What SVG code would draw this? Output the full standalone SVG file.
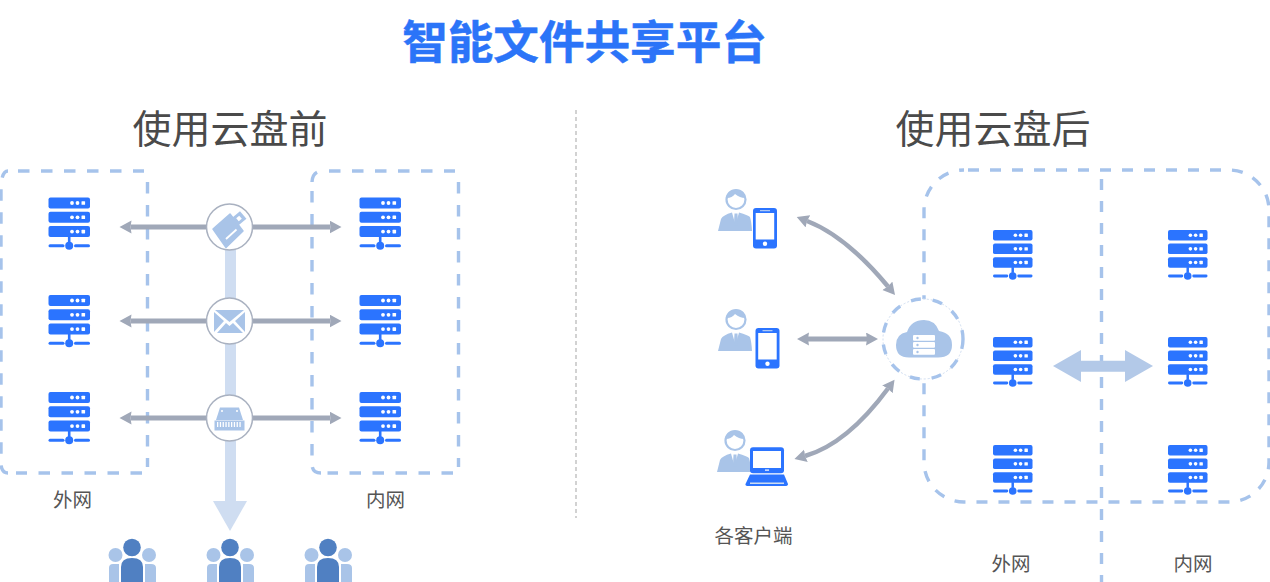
<svg xmlns="http://www.w3.org/2000/svg" width="1270" height="582" viewBox="0 0 1270 582">
<style>
text{font-family:"Noto Sans CJK SC","Noto Sans",sans-serif;text-anchor:middle}
.title{font-size:45.6px;font-weight:700;fill:#2b74f8;stroke:#2b74f8;stroke-width:.5}
.sub{font-size:39px;font-weight:400;fill:#4a4a4a}
.lab{font-size:19.5px;fill:#555}
.dash{fill:none;stroke:#a6c3eb;stroke-width:3.400;stroke-dasharray:11.500 11.500}
.dash2{fill:none;stroke:#a6c3eb;stroke-width:3.400;stroke-dasharray:11 11}
.arr{fill:none;stroke:#a0a8b8;stroke-width:5;marker-start:url(#ah);marker-end:url(#ah)}
.arc{fill:none;stroke:#a0a8b8;stroke-width:4.500;marker-start:url(#ah);marker-end:url(#ah)}
.hub{fill:#fff;stroke:#a9b1c0;stroke-width:1.500}
.lt{fill:#a9c4e8}
.bl{fill:#2b74ff}
.dk{fill:#5080c2}
</style>
<defs>
<marker id="ah" markerUnits="userSpaceOnUse" markerWidth="15" markerHeight="15" refX="1" refY="6.500" orient="auto-start-reverse" viewBox="0 0 15 15"><path d="M0 0L12 6.500L0 13L1 6.500Z" fill="#a0a8b8"/></marker>
<symbol id="srv" viewBox="0 0 42 52" width="42" height="52" overflow="visible">
<rect x="0" y="0" width="41.500" height="11" rx="2" class="bl"/><rect x="0" y="14.300" width="41.500" height="11" rx="2" class="bl"/><rect x="0" y="28.600" width="41.500" height="11" rx="2" class="bl"/>
<g fill="#fff"><circle cx="23.500" cy="5.500" r="1.900"/><circle cx="29" cy="5.500" r="1.900"/><rect x="33" y="3.700" width="3.600" height="3.600" rx=".6"/><circle cx="23.500" cy="19.800" r="1.900"/><circle cx="29" cy="19.800" r="1.900"/><rect x="33" y="18" width="3.600" height="3.600" rx=".6"/><circle cx="23.500" cy="34.100" r="1.900"/><circle cx="29" cy="34.100" r="1.900"/><rect x="33" y="32.300" width="3.600" height="3.600" rx=".6"/></g>
<rect x="19.400" y="39" width="2.600" height="6" class="bl"/><rect x="0" y="46.800" width="16" height="3" rx="1.500" class="bl"/><rect x="25.500" y="46.800" width="16" height="3" rx="1.500" class="bl"/><circle cx="20.700" cy="48.300" r="4" class="bl"/>
</symbol>
<symbol id="srv2" viewBox="0 0 42 52" width="40" height="49.500" overflow="visible"><use href="#srv"/></symbol>
<symbol id="person" viewBox="0 0 36 44" width="36" height="44" overflow="visible">
<circle cx="19" cy="11.500" r="9.500" fill="#fff" stroke="#a9c4e8" stroke-width="2.200"/><path d="M10 10Q15 10 18 6Q23 10 28 10Q28 2 19 2Q10 2 10 10Z" class="lt"/>
<path d="M1 43L4 31Q6 27 15 24.500L18.500 37L22 24.500Q31 27 33 29Q34.500 34 35 43Z" class="lt"/><path d="M17.500 25.500H20.500L21 35L19 40L17 35Z" class="lt"/>
</symbol>
<symbol id="phone" viewBox="0 0 25 41" width="25" height="41" overflow="visible"><rect width="24" height="40.500" rx="3" class="bl"/><rect x="2.700" y="5" width="18.500" height="26.500" fill="#fff"/><circle cx="12" cy="35.800" r="2.200" fill="#fff"/><rect x="7" y="2.200" width="10" height="1" fill="#cfddf1"/></symbol>
<symbol id="group" viewBox="0 0 48 44" width="48" height="44" overflow="visible">
<circle cx="7.500" cy="16" r="7" class="lt"/><circle cx="41" cy="16" r="7" class="lt"/><path d="M1 44V29Q1 25 5 25H11V44Z M37 44V25H43Q48 25 48 29V44Z" class="lt"/>
<circle cx="24" cy="8.500" r="8.800" class="dk"/><path d="M13 44V28Q13 19 24 19Q35 19 35 28V44Z" class="dk"/>
</symbol>
</defs>
<rect width="1270" height="582" fill="#fff"/>
<text class="title" x="584.500" y="59">智能文件共享平台</text>
<text class="sub" x="230" y="143">使用云盘前</text>
<text class="sub" x="993" y="143">使用云盘后</text>
<text class="lab" x="72.500" y="507">外网</text>
<text class="lab" x="385.500" y="507">内网</text>
<text class="lab" x="753.500" y="543">各客户端</text>
<text class="lab" x="1011" y="571">外网</text>
<text class="lab" x="1193" y="571">内网</text>

<g id="frames">
<line x1="576" y1="110" x2="576" y2="518" stroke="#b5b5b5" stroke-width="1.200" stroke-dasharray="4 3"/>
<path class="dash" d="M18 171H144 M147.500 182V467 M142 473H16 M8 473Q1.500 473 1 464V188Q1.500 171 8 171"/>
<path class="dash" d="M329 171H455 M458.500 182V467 M453 473H327.500 M321 473Q312 473 312 464V190.500 M312 182Q312.500 171 323 171"/>
<rect class="dash2" x="924" y="170" width="345" height="332" rx="40" stroke-dashoffset="-4"/>
<line class="dash2" x1="1101.500" y1="179" x2="1101.500" y2="582"/>
</g>

<g id="connectors">
<rect x="225" y="248" width="11" height="254" fill="#cfddf1"/>
<polygon points="213,501 247,501 230,531" fill="#cfddf1"/>
<line class="arr" x1="130.500" y1="227" x2="330.500" y2="227"/>
<line class="arr" x1="130.500" y1="321" x2="330.500" y2="321"/>
<line class="arr" x1="130.500" y1="418" x2="330.500" y2="418"/>
<path class="arc" d="M807 221Q846 236 888 286.500"/>
<line class="arr" x1="808" y1="339" x2="867" y2="339"/>
<path class="arc" d="M805 456Q847 444 888 388.500"/>
<polygon points="1053,366 1081,350 1081,360.700 1125,360.700 1125,350 1153,366 1125,382 1125,371.700 1081,371.700 1081,382" fill="#b3c9e8"/>
</g>

<g id="server-l1"><use href="#srv" x="48.500" y="197.500"/></g>
<g id="server-l2"><use href="#srv" x="48.500" y="295"/></g>
<g id="server-l3"><use href="#srv" x="48.500" y="392"/></g>
<g id="server-r1"><use href="#srv" x="359.500" y="197.500"/></g>
<g id="server-r2"><use href="#srv" x="359.500" y="295"/></g>
<g id="server-r3"><use href="#srv" x="359.500" y="392"/></g>

<g id="hub-usb"><circle class="hub" cx="229.500" cy="227" r="23"/>
<polygon class="lt" points="213,229 230,214 243,231 226,247.500" stroke="#a9c4e8" stroke-width="1.500" stroke-linejoin="round"/>
<rect x="233.500" y="213.500" width="11" height="10" class="lt" transform="rotate(-40 239 218.500)"/><rect x="237" y="216.500" width="4" height="4" fill="#fff" transform="rotate(-40 239 218.500)"/>
<line x1="226" y1="239" x2="236.500" y2="229.500" stroke="#fff" stroke-width="1.800"/></g>
<g id="hub-mail"><circle class="hub" cx="229.500" cy="321" r="23"/>
<path class="lt" d="M215 310H244L229.500 322Z"/><path class="lt" d="M214 312L224 321L214 332Z M245 312L235 321L245 332Z"/><path class="lt" d="M217 333L226 323L229.500 326L233 323L243 333Z"/></g>
<g id="hub-disk"><circle class="hub" cx="229.500" cy="418" r="23"/>
<path class="lt" d="M220 407.500H239L243 420H216Z"/><rect x="214.500" y="420.500" width="30" height="10" class="lt"/><circle cx="222" cy="411" r="1" fill="#fff"/><circle cx="237" cy="411" r="1" fill="#fff"/><line x1="217" y1="424.500" x2="242" y2="424.500" stroke="#fff" stroke-width="5" stroke-dasharray="1.300 1.500"/></g>

<g id="users-1"><use href="#group" x="108" y="539"/></g>
<g id="users-2"><use href="#group" x="206" y="539"/></g>
<g id="users-3"><use href="#group" x="304" y="539"/></g>

<g id="client-1"><use href="#person" x="717" y="188"/><use href="#phone" x="753" y="208"/></g>
<g id="client-2"><use href="#person" x="717" y="308"/><use href="#phone" x="755.500" y="328"/></g>
<g id="client-3"><use href="#person" x="716" y="429"/>
<rect x="750" y="447.300" width="34" height="26" rx="3" class="bl"/><rect x="753" y="451" width="28" height="17" fill="#fff"/><rect x="765" y="469.500" width="4" height="1.200" fill="#fff"/><path d="M750 474.500H784L788 484Q788 486 785 486H749Q745 486 745.500 484Z" class="bl"/><rect x="750" y="482.500" width="34" height="1.500" fill="#cfddf1"/></g>

<g id="cloud"><circle cx="923" cy="339" r="40" fill="#fff" stroke="#cfddf1" stroke-width="1" stroke-dasharray="2 2"/><circle cx="923" cy="339" r="40" fill="none" stroke="#a6c3eb" stroke-width="3.400" stroke-dasharray="10 12"/>
<path class="lt" d="M909 357.500Q896 357.500 896 345Q896 334 907 332Q911 320 924 320Q935 320 939 331Q952 333 952 345Q952 357.500 938 357.500Z"/>
<rect x="913" y="335" width="22" height="5.800" rx="1" fill="#fff"/><rect x="913" y="342" width="22" height="5.800" rx="1" fill="#fff"/><rect x="913" y="349" width="22" height="5.800" rx="1" fill="#fff"/>
<circle cx="917.500" cy="338" r="1.200" class="lt"/><circle cx="917.500" cy="345" r="1.200" class="lt"/><circle cx="917.500" cy="352" r="1.200" class="lt"/></g>

<g id="server-a1"><use href="#srv2" x="993" y="230"/></g>
<g id="server-a2"><use href="#srv2" x="993" y="337"/></g>
<g id="server-a3"><use href="#srv2" x="993" y="445"/></g>
<g id="server-b1"><use href="#srv2" x="1168" y="230"/></g>
<g id="server-b2"><use href="#srv2" x="1168" y="337"/></g>
<g id="server-b3"><use href="#srv2" x="1168" y="445"/></g>
</svg>
